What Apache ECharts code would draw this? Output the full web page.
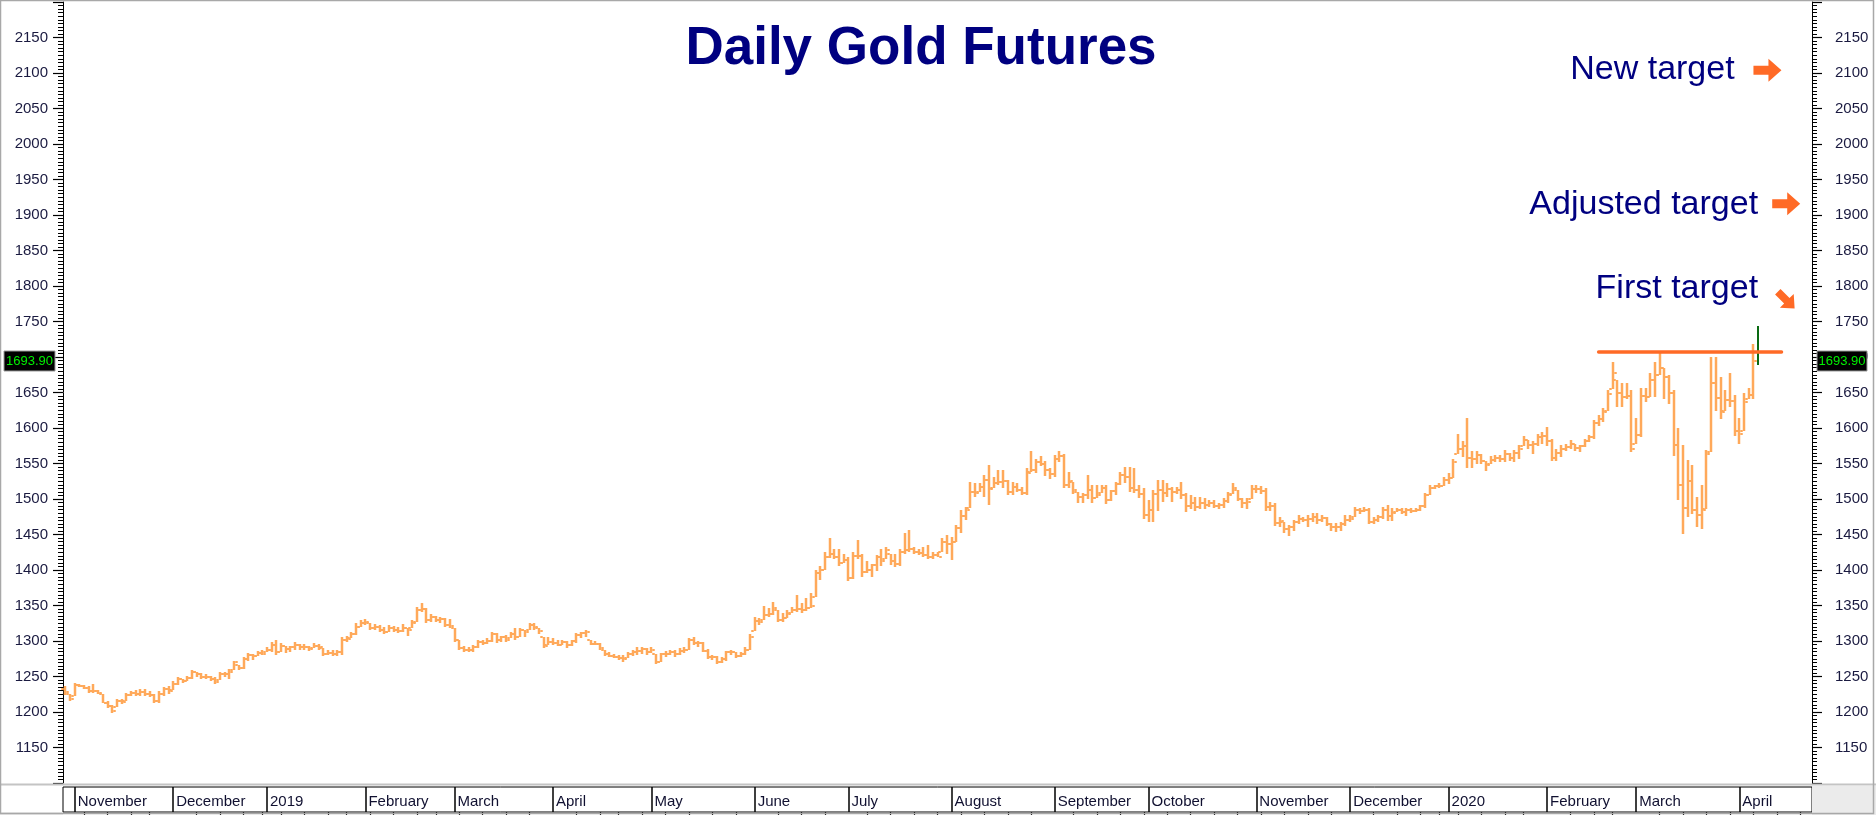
<!DOCTYPE html>
<html>
<head>
<meta charset="utf-8">
<script src="https://cdn.jsdelivr.net/npm/echarts@6/dist/echarts.min.js"></script>
<style>
html,body{margin:0;padding:0;background:#fff;}
#c{width:1876px;height:815px;}
</style>
</head>
<body>
<div id="c"></div>
<script>
// ---------- DATA ----------
const chartTitle = 'Daily Gold Futures';
const firstDate = '2018-10-30';
const slotCount = 373;               // trading-day slots on the axis (last 11 empty)
const holidays = ['2018-11-22','2018-12-25','2019-01-01','2019-01-21','2019-02-18','2019-04-19',
  '2019-05-27','2019-07-04','2019-09-02','2019-11-28','2019-12-25','2020-01-01','2020-01-20','2020-02-17'];
const monthNames = ['January','February','March','April','May','June','July','August','September','October','November','December'];

const highs = [
1236,1226,1241,1240,1238,1237,1240,1231,1226,1215,
1210,1219,1219,1227,1230,1231,1232,1232,1229,1225,
1229,1235,1236,1243,1249,1247,1251,1259,1257,1255,
1253,1251,1249,1257,1257,1261,1272,1266,1277,1283,
1282,1286,1287,1291,1299,1301,1297,1293,1293,1298,
1296,1296,1293,1297,1296,1290,1287,1288,1287,1306,
1307,1313,1325,1330,1331,1325,1324,1323,1320,1323,
1321,1320,1324,1319,1329,1348,1353,1346,1338,1335,
1334,1332,1331,1318,1301,1293,1292,1294,1302,1301,
1304,1313,1311,1307,1308,1313,1318,1318,1315,1326,
1325,1319,1306,1306,1304,1301,1301,1300,1302,1311,
1313,1315,1301,1300,1297,1287,1284,1282,1280,1280,
1285,1288,1291,1291,1290,1291,1282,1283,1286,1288,
1287,1290,1292,1304,1306,1300,1298,1289,1280,1279,
1277,1286,1287,1284,1284,1291,1310,1334,1333,1349,
1346,1355,1343,1340,1344,1348,1365,1353,1360,1367,
1400,1405,1426,1445,1430,1430,1423,1419,1426,1442,
1423,1412,1409,1421,1430,1433,1423,1423,1430,1452,
1456,1433,1430,1433,1435,1426,1426,1445,1449,1447,
1463,1484,1489,1524,1522,1522,1534,1548,1531,1541,
1541,1527,1524,1522,1517,1543,1567,1557,1560,1553,
1543,1562,1568,1564,1538,1524,1510,1508,1534,1520,
1520,1520,1520,1513,1524,1538,1545,1545,1543,1520,
1515,1498,1513,1527,1527,1522,1517,1517,1524,1508,
1506,1503,1503,1501,1499,1499,1495,1501,1510,1522,
1513,1501,1501,1520,1520,1518,1515,1496,1495,1475,
1468,1463,1470,1477,1475,1477,1480,1480,1477,1475,
1466,1466,1468,1477,1477,1489,1488,1489,1487,1475,
1477,1489,1491,1487,1487,1487,1487,1487,1487,1492,
1508,1520,1520,1522,1531,1536,1557,1592,1581,1614,
1567,1567,1564,1553,1560,1562,1562,1569,1565,1569,
1576,1589,1583,1581,1592,1595,1602,1585,1571,1576,
1578,1583,1578,1576,1585,1590,1611,1618,1628,1654,
1693,1668,1663,1663,1654,1614,1656,1656,1677,1693,
1708,1684,1675,1654,1600,1576,1555,1548,1503,1520,
1569,1700,1700,1672,1654,1677,1646,1614,1649,1656,
1719,1743];

const lows = [
1224,1216,1222,1235,1232,1227,1227,1225,1212,1205,
1199,1207,1211,1216,1222,1223,1222,1223,1221,1213,
1213,1223,1226,1231,1238,1241,1243,1247,1250,1247,
1247,1244,1240,1245,1250,1247,1259,1259,1261,1272,
1273,1279,1280,1284,1285,1280,1284,1283,1285,1287,
1288,1288,1286,1290,1287,1279,1280,1279,1279,1280,
1299,1304,1308,1320,1323,1315,1316,1313,1310,1313,
1313,1311,1313,1307,1318,1327,1341,1326,1327,1327,
1325,1320,1318,1299,1287,1285,1285,1285,1290,1294,
1296,1299,1297,1299,1299,1304,1301,1306,1306,1315,
1316,1310,1290,1294,1294,1293,1294,1290,1293,1297,
1304,1306,1294,1294,1287,1279,1277,1276,1273,1271,
1276,1279,1280,1282,1280,1283,1268,1270,1277,1280,
1278,1280,1283,1287,1294,1292,1284,1275,1273,1268,
1269,1272,1280,1276,1277,1280,1288,1314,1322,1329,
1334,1336,1327,1327,1332,1339,1341,1340,1342,1346,
1362,1386,1400,1417,1415,1405,1410,1384,1388,1415,
1390,1396,1390,1398,1405,1416,1407,1404,1405,1423,
1426,1422,1421,1418,1415,1415,1418,1425,1423,1414,
1440,1452,1470,1487,1503,1510,1503,1491,1515,1520,
1516,1505,1506,1510,1505,1506,1538,1537,1546,1533,
1528,1531,1552,1515,1516,1507,1495,1495,1500,1495,
1502,1509,1493,1497,1505,1520,1523,1510,1509,1502,
1472,1467,1467,1483,1496,1503,1496,1507,1500,1481,
1486,1483,1486,1486,1489,1488,1486,1488,1495,1507,
1497,1488,1486,1500,1508,1507,1483,1483,1462,1460,
1452,1448,1455,1465,1467,1460,1467,1465,1467,1462,
1455,1453,1455,1462,1467,1474,1479,1481,1465,1465,
1467,1472,1469,1469,1481,1479,1476,1480,1481,1483,
1488,1505,1514,1516,1519,1521,1530,1563,1559,1543,
1543,1549,1549,1540,1549,1552,1552,1552,1554,1552,
1556,1575,1570,1563,1575,1577,1575,1554,1554,1559,
1567,1570,1568,1566,1573,1580,1585,1603,1608,1624,
1655,1629,1630,1641,1566,1577,1587,1636,1643,1643,
1674,1641,1634,1561,1498,1451,1474,1479,1460,1458,
1486,1566,1624,1613,1624,1629,1589,1577,1596,1641,
1641,1689];

const closes = [
1228,1219,1238,1236,1234,1230,1229,1227,1213,1208,
1202,1215,1214,1224,1227,1226,1228,1226,1224,1215,
1226,1232,1230,1240,1246,1244,1248,1256,1253,1250,
1249,1246,1242,1253,1254,1257,1270,1262,1274,1280,
1279,1283,1282,1287,1295,1285,1293,1289,1291,1294,
1292,1291,1289,1293,1292,1282,1283,1281,1284,1302,
1303,1310,1320,1325,1327,1318,1320,1316,1312,1318,
1316,1314,1319,1315,1326,1343,1345,1330,1334,1330,
1331,1323,1321,1302,1290,1288,1287,1291,1298,1297,
1300,1310,1302,1305,1302,1310,1306,1315,1312,1323,
1320,1314,1293,1298,1297,1295,1298,1294,1300,1308,
1311,1313,1296,1296,1290,1281,1279,1278,1276,1275,
1282,1285,1286,1289,1284,1288,1271,1281,1282,1285,
1281,1286,1288,1301,1297,1297,1286,1277,1277,1271,
1274,1284,1285,1279,1281,1288,1306,1328,1327,1336,
1338,1346,1330,1332,1338,1344,1345,1343,1347,1350,
1396,1400,1418,1423,1419,1410,1414,1389,1420,1420,
1397,1400,1407,1418,1413,1428,1413,1408,1425,1428,
1430,1426,1424,1421,1419,1421,1419,1440,1436,1440,
1459,1476,1484,1510,1509,1517,1527,1514,1523,1524,
1526,1510,1517,1513,1508,1537,1541,1552,1550,1541,
1535,1557,1560,1520,1525,1512,1503,1506,1513,1501,
1506,1515,1499,1511,1521,1534,1531,1515,1512,1507,
1478,1484,1507,1513,1509,1514,1510,1512,1505,1490,
1495,1489,1494,1492,1494,1490,1491,1497,1505,1515,
1500,1494,1496,1514,1514,1511,1489,1490,1466,1469,
1458,1460,1467,1472,1470,1472,1475,1471,1473,1465,
1460,1461,1465,1470,1472,1485,1483,1485,1468,1470,
1474,1485,1476,1480,1484,1482,1484,1483,1485,1490,
1505,1516,1518,1519,1527,1530,1552,1570,1575,1558,
1556,1562,1553,1548,1555,1558,1557,1563,1558,1565,
1571,1583,1576,1577,1587,1589,1582,1558,1565,1570,
1573,1578,1572,1574,1582,1587,1607,1612,1622,1648,
1678,1650,1643,1645,1570,1590,1645,1643,1668,1675,
1685,1672,1650,1576,1520,1488,1525,1484,1478,1484,
1564,1663,1642,1622,1640,1638,1596,1591,1636,1647,
1694,1693.9];

const firstOpen = 1232;
const lastPrice = 1693.9;
const resistanceLevel = 1707;
const resistanceFrom = 327, resistanceTo = 366;
const yTickLabels = [];  // 1150 .. 2150 shown
for (let v = 1150; v <= 2150; v += 50) yTickLabels.push(v);

const targets = [
  {text: 'New target',      textIdx: 355.6, textVal: 2105, arrowIdx: 362.9, arrowVal: 2104, angle: 0},
  {text: 'Adjusted target', textIdx: 361.4, textVal: 1915, arrowIdx: 366.8, arrowVal: 1916, angle: 0},
  {text: 'First target',    textIdx: 361.4, textVal: 1797, arrowIdx: 367.1, arrowVal: 1780, angle: 45}
];

// ---------- CATEGORIES (trading calendar) ----------
const cats = [];
{
  const p = firstDate.split('-').map(Number);
  const d = new Date(Date.UTC(p[0], p[1]-1, p[2]));
  while (cats.length < slotCount) {
    const dow = d.getUTCDay();
    const iso = d.toISOString().slice(0,10);
    if (dow !== 0 && dow !== 6 && holidays.indexOf(iso) < 0) cats.push(iso);
    d.setUTCDate(d.getUTCDate()+1);
  }
}
const monthStart = [], weekStart = [], monthLabel = [];
cats.forEach((c, i) => {
  const dt = new Date(c + 'T00:00:00Z');
  let ms = false, ws = false;
  if (i > 0) {
    const pd = new Date(cats[i-1] + 'T00:00:00Z');
    ms = dt.getUTCMonth() !== pd.getUTCMonth();
    ws = dt.getUTCDay() <= pd.getUTCDay() || (dt - pd) > 6*86400000;
  }
  monthStart.push(ms); weekStart.push(ws);
  monthLabel.push(ms ? (dt.getUTCMonth() === 0 ? String(dt.getUTCFullYear()) : monthNames[dt.getUTCMonth()]) : '');
});

// ---------- BUILD BARS ----------
const nBars = Math.min(highs.length, lows.length, closes.length);
const bars = [];
for (let i = 0; i < nBars; i++) {
  let o = i === 0 ? firstOpen : closes[i-1];
  o = Math.max(lows[i], Math.min(highs[i], o));
  bars.push([i, o, highs[i], lows[i], closes[i]]);
}
const lastIdx = nBars - 1;

const FONT = 'Liberation Sans, Arial, sans-serif';
const BAR = '#ffa95a';
const GREEN = '#0a6a12';
const ORANGE = '#ff6a26';
const NAVY = '#000080';
const LABEL = '#1a1a40';

function renderBar(params, api) {
  const x = api.value(0);
  const pO = api.coord([x, api.value(1)]);
  const pH = api.coord([x, api.value(2)]);
  const pL = api.coord([x, api.value(3)]);
  const pC = api.coord([x, api.value(4)]);
  const cx = Math.round(pH[0]);
  const green = x === lastIdx;
  const col = green ? GREEN : BAR;
  const bw = green ? 2 : 2.5;
  const top = Math.round(pH[1]), bot = Math.round(pL[1]);
  const kids = [
    {type: 'rect', shape: {x: cx - bw / 2, y: top, width: bw, height: Math.max(2, bot - top)}, style: {fill: col}}
  ];
  if (!green) {
    kids.push({type: 'rect', shape: {x: cx - bw / 2 - 2.5, y: Math.round(pO[1]) - 1, width: 2.5, height: 2}, style: {fill: col}});
    kids.push({type: 'rect', shape: {x: cx + bw / 2, y: Math.round(pC[1]) - 1, width: 2.5, height: 2}, style: {fill: col}});
  }
  return {type: 'group', children: kids};
}

function yAxisCfg(pos, margin) {
  return {
    type: 'value', gridIndex: 0, position: pos, min: 1100, max: 2200, interval: 50,
    axisLine: {show: true, lineStyle: {color: '#000', width: 1}},
    axisTick: {show: true, length: 10, lineStyle: {color: '#000', width: 1.2}},
    minorTick: {show: true, splitNumber: 10, length: 5, lineStyle: {color: '#000', width: 1}},
    splitLine: {show: false},
    axisLabel: {
      margin: margin, fontSize: 15, fontFamily: FONT, color: LABEL,
      formatter: v => (yTickLabels.indexOf(v) >= 0 ? String(v) : '')
    }
  };
}

const chart = echarts.init(document.getElementById('c'), null, {renderer: 'canvas'});
chart.setOption({
  animation: false,
  backgroundColor: '#fff',
  grid: [
    {left: 63, top: 2, width: 1749, height: 781},
    {left: 63, top: 787, width: 1749, height: 25, show: true, borderColor: '#000', borderWidth: 1, backgroundColor: '#fff'}
  ],
  xAxis: [
    {type: 'category', gridIndex: 0, data: cats, boundaryGap: true, show: false},
    {type: 'category', gridIndex: 1, data: cats, boundaryGap: true, position: 'top',
     axisLine: {show: false},
     axisTick: {show: true, inside: true, alignWithLabel: true, length: 5,
                interval: (i) => weekStart[i] && !monthStart[i], lineStyle: {color: '#000', width: 1.2}},
     axisLabel: {show: false}, splitLine: {show: false}},
    {type: 'category', gridIndex: 1, data: cats, boundaryGap: true, position: 'bottom',
     axisLine: {show: false},
     axisTick: {show: true, inside: true, alignWithLabel: true, length: 25,
                interval: (i) => monthStart[i], lineStyle: {color: '#000', width: 1.5}},
     axisLabel: {show: true, inside: true, interval: (i) => monthStart[i],
                 formatter: (v, i) => monthLabel[i], align: 'left', margin: 3,
                 padding: [0, 0, 0, 3], fontSize: 15, fontFamily: FONT, color: '#101030'},
     splitLine: {show: false}}
  ],
  yAxis: [yAxisCfg('left', 15), yAxisCfg('right', 23),
    {type: 'value', gridIndex: 1, show: false}],
  series: [
    {type: 'custom', xAxisIndex: 0, yAxisIndex: 0, renderItem: renderBar, data: bars,
     encode: {x: 0, y: [1, 2, 3, 4]}, silent: true, z: 2},
    {type: 'line', xAxisIndex: 0, yAxisIndex: 0,
     data: [[resistanceFrom, resistanceLevel], [resistanceTo, resistanceLevel]],
     symbol: 'none', silent: true, z: 3,
     lineStyle: {color: ORANGE, width: 3.5, cap: 'round'}}
  ]
});

// ---------- ANNOTATIONS ----------
const g = [];
g.push({type: 'rect', z: 0, silent: true, shape: {x: 1812, y: 786, width: 64, height: 29}, style: {fill: '#ebebeb'}});
g.push({type: 'rect', z: 0, silent: true, shape: {x: 0, y: 812, width: 63, height: 3}, style: {fill: '#ebebeb'}});
g.push({type: 'line', z: 1, silent: true, shape: {x1: 0, y1: 784.5, x2: 1876, y2: 784.5}, style: {stroke: '#c4c4c4', lineWidth: 2}});
g.push({type: 'rect', z: 10, silent: true, shape: {x: 0.5, y: 0.5, width: 1873, height: 813}, style: {fill: 'none', stroke: '#a8a8a8', lineWidth: 1.5}});

g.push({type: 'text', z: 20, silent: true, style: {
  text: chartTitle, x: 921, y: 49, textAlign: 'center', textVerticalAlign: 'middle', align: 'center', verticalAlign: 'middle',
  font: 'bold 53px ' + FONT, fill: NAVY}});

const py = Math.round(chart.convertToPixel({yAxisIndex: 0}, lastPrice));
[[4, 51], [1817, 50]].forEach(([bx, bw]) => {
  g.push({type: 'rect', z: 20, silent: true, shape: {x: bx, y: py - 10, width: bw, height: 20},
          style: {fill: '#000', stroke: '#9a9a9a', lineWidth: 1}});
  g.push({type: 'text', z: 21, silent: true, style: {
    text: lastPrice.toFixed(2), x: bx + bw / 2, y: py, textAlign: 'center', textVerticalAlign: 'middle',
    align: 'center', verticalAlign: 'middle', font: '13px ' + FONT, fill: '#00f000'}});
});

const arrowPts = [[-14,-4.5],[1,-4.5],[1,-11.5],[14,0],[1,11.5],[1,4.5],[-14,4.5]];
targets.forEach(t => {
  const tp = chart.convertToPixel({gridIndex: 0}, [t.textIdx, t.textVal]);
  g.push({type: 'text', z: 20, silent: true, style: {
    text: t.text, x: tp[0], y: tp[1], textAlign: 'right', textVerticalAlign: 'middle',
    align: 'right', verticalAlign: 'middle', font: '34px ' + FONT, fill: NAVY}});
  const ap = chart.convertToPixel({gridIndex: 0}, [t.arrowIdx, t.arrowVal]);
  const a = t.angle * Math.PI / 180, s = t.angle ? 0.85 : 1;
  const pts = arrowPts.map(([x, y]) => [
    ap[0] + s * (x * Math.cos(a) - y * Math.sin(a)),
    ap[1] + s * (x * Math.sin(a) + y * Math.cos(a))
  ]);
  g.push({type: 'polygon', z: 20, silent: true, shape: {points: pts}, style: {fill: ORANGE}});
});

chart.setOption({graphic: g});
</script>
</body>
</html>
